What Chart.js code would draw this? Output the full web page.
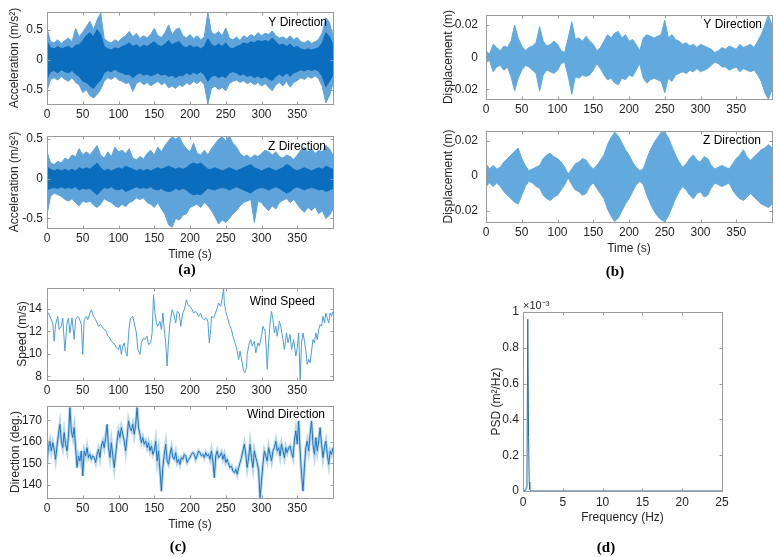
<!DOCTYPE html>
<html>
<head>
<meta charset="utf-8">
<script src="https://cdn.jsdelivr.net/npm/chart.js@4.4.0/dist/chart.umd.min.js"></script>
<style>
  body { margin: 0; background: #fff; width: 777px; height: 557px; position: relative; overflow: hidden; }
  canvas { position: absolute; left: 0; top: 0; }
  .sub { position: absolute; font: bold 15px "Liberation Serif", "Times New Roman", serif; color: #000; transform: translate(-50%, -50%); }
</style>
</head>
<body>
<canvas id="accY" width="777" height="557"></canvas>
<canvas id="accZ" width="777" height="557"></canvas>
<canvas id="dispY" width="777" height="557"></canvas>
<canvas id="dispZ" width="777" height="557"></canvas>
<canvas id="speed" width="777" height="557"></canvas>
<canvas id="dir" width="777" height="557"></canvas>
<canvas id="psd" width="777" height="557"></canvas>
<div class="sub" style="left:187px;top:269px">(a)</div>
<div class="sub" style="left:615px;top:271px">(b)</div>
<div class="sub" style="left:178px;top:546px">(c)</div>
<div class="sub" style="left:606px;top:547px">(d)</div>
<script>
// time axis for the envelope readings (s)
const t5 = [0,5,10,15,20,25,30,35,40,45,50,55,60,65,70,75,80,85,90,95,
  100,105,110,115,120,125,130,135,140,145,150,155,160,165,170,175,180,185,190,195,
  200,205,210,215,220,225,230,235,240,245,250,255,260,265,270,275,280,285,290,295,
  300,305,310,315,320,325,330,335,340,345,350,355,360,365,370,375,380,385,390,395,400]

const timeTicks = [0, 50, 100, 150, 200, 250, 300, 350]

// acceleration Y: outer (light) and inner (dark) envelopes
const accYHi = [0.52,0.30,0.28,0.33,0.27,0.32,0.36,0.30,0.52,0.38,
  0.46,0.55,0.64,0.50,0.66,0.78,0.35,0.30,0.28,0.33,
  0.30,0.36,0.40,0.47,0.38,0.44,0.35,0.40,0.36,0.42,
  0.52,0.40,0.37,0.45,0.58,0.42,0.50,0.53,0.40,0.36,
  0.42,0.35,0.40,0.33,0.38,0.79,0.45,0.42,0.47,0.40,
  0.53,0.36,0.33,0.38,0.32,0.40,0.36,0.42,0.38,0.45,
  0.40,0.44,0.42,0.48,0.40,0.36,0.38,0.34,0.40,0.33,
  0.37,0.30,0.28,0.32,0.27,0.30,0.34,0.45,0.70,0.62,0.40]
const accYLo = [-0.52,-0.33,-0.30,-0.34,-0.28,-0.33,-0.36,-0.30,-0.38,-0.42,
  -0.55,-0.50,-0.60,-0.64,-0.58,-0.50,-0.36,-0.30,-0.33,-0.28,
  -0.34,-0.36,-0.40,-0.38,-0.53,-0.40,-0.36,-0.42,-0.38,-0.44,
  -0.40,-0.36,-0.42,-0.38,-0.47,-0.44,-0.48,-0.42,-0.45,-0.38,
  -0.42,-0.36,-0.40,-0.35,-0.42,-0.74,-0.48,-0.44,-0.50,-0.46,
  -0.52,-0.40,-0.36,-0.34,-0.38,-0.35,-0.40,-0.37,-0.42,-0.38,
  -0.44,-0.40,-0.46,-0.52,-0.42,-0.38,-0.44,-0.36,-0.46,-0.38,
  -0.35,-0.30,-0.33,-0.28,-0.31,-0.27,-0.32,-0.45,-0.72,-0.60,-0.40]
const accYCoreHi = [0.30,0.20,0.18,0.22,0.18,0.20,0.22,0.18,0.24,0.25,
  0.32,0.40,0.45,0.38,0.50,0.42,0.22,0.18,0.16,0.20,
  0.18,0.22,0.24,0.28,0.22,0.25,0.20,0.24,0.22,0.26,
  0.30,0.24,0.22,0.26,0.32,0.25,0.28,0.30,0.22,0.20,
  0.24,0.20,0.22,0.18,0.22,0.35,0.25,0.22,0.26,0.22,
  0.28,0.20,0.18,0.22,0.24,0.28,0.26,0.30,0.28,0.32,
  0.30,0.32,0.30,0.36,0.30,0.24,0.26,0.22,0.26,0.20,
  0.22,0.18,0.16,0.18,0.16,0.18,0.20,0.28,0.45,0.38,0.25]
const accYCoreLo = [-0.32,-0.20,-0.18,-0.22,-0.17,-0.20,-0.22,-0.18,-0.24,-0.28,
  -0.36,-0.38,-0.44,-0.48,-0.40,-0.34,-0.22,-0.18,-0.20,-0.16,
  -0.20,-0.22,-0.25,-0.24,-0.30,-0.25,-0.22,-0.26,-0.24,-0.27,
  -0.25,-0.22,-0.26,-0.24,-0.28,-0.26,-0.30,-0.26,-0.27,-0.22,
  -0.25,-0.21,-0.24,-0.20,-0.25,-0.36,-0.28,-0.26,-0.30,-0.27,
  -0.30,-0.22,-0.20,-0.22,-0.26,-0.24,-0.28,-0.26,-0.30,-0.27,
  -0.31,-0.28,-0.32,-0.35,-0.28,-0.24,-0.28,-0.22,-0.28,-0.22,
  -0.20,-0.17,-0.19,-0.16,-0.18,-0.16,-0.19,-0.28,-0.45,-0.36,-0.25]

// acceleration Z
const accZHi = [0.34,0.20,0.18,0.22,0.20,0.26,0.24,0.30,0.28,0.38,
  0.30,0.34,0.30,0.36,0.42,0.30,0.26,0.34,0.28,0.40,
  0.34,0.36,0.32,0.38,0.26,0.24,0.28,0.25,0.32,0.36,
  0.30,0.40,0.34,0.42,0.48,0.53,0.50,0.53,0.44,0.38,
  0.34,0.45,0.32,0.30,0.36,0.30,0.38,0.44,0.50,0.53,
  0.48,0.54,0.45,0.40,0.32,0.28,0.30,0.26,0.30,0.28,
  0.32,0.36,0.34,0.30,0.34,0.28,0.26,0.30,0.28,0.24,
  0.30,0.36,0.40,0.34,0.38,0.32,0.36,0.34,0.42,0.38,0.30]
const accZLo = [-0.45,-0.22,-0.18,-0.20,-0.22,-0.26,-0.28,-0.25,-0.30,-0.34,
  -0.28,-0.30,-0.28,-0.33,-0.36,-0.32,-0.25,-0.28,-0.30,-0.34,
  -0.36,-0.32,-0.35,-0.30,-0.28,-0.24,-0.26,-0.24,-0.30,-0.32,
  -0.36,-0.30,-0.38,-0.45,-0.58,-0.61,-0.50,-0.52,-0.46,-0.44,
  -0.36,-0.34,-0.32,-0.36,-0.30,-0.34,-0.40,-0.48,-0.57,-0.52,
  -0.55,-0.50,-0.44,-0.40,-0.34,-0.30,-0.28,-0.26,-0.55,-0.28,
  -0.30,-0.36,-0.40,-0.34,-0.38,-0.30,-0.27,-0.25,-0.30,-0.26,
  -0.32,-0.38,-0.42,-0.36,-0.40,-0.35,-0.44,-0.40,-0.50,-0.46,-0.38]
const accZCoreHi = [0.15,0.12,0.10,0.12,0.10,0.12,0.10,0.12,0.10,0.14,
  0.12,0.14,0.12,0.16,0.20,0.14,0.10,0.12,0.10,0.12,
  0.14,0.12,0.16,0.14,0.12,0.10,0.12,0.10,0.12,0.10,
  0.12,0.14,0.12,0.14,0.16,0.14,0.12,0.14,0.12,0.14,
  0.18,0.20,0.18,0.20,0.16,0.12,0.12,0.14,0.12,0.10,
  0.12,0.14,0.12,0.10,0.12,0.14,0.16,0.18,0.14,0.12,
  0.10,0.12,0.14,0.12,0.10,0.12,0.14,0.18,0.16,0.12,
  0.10,0.12,0.14,0.12,0.10,0.12,0.14,0.12,0.16,0.14,0.12]
const accZCoreLo = [-0.14,-0.12,-0.11,-0.12,-0.10,-0.12,-0.11,-0.12,-0.10,-0.14,
  -0.12,-0.13,-0.12,-0.16,-0.20,-0.15,-0.11,-0.12,-0.10,-0.13,
  -0.14,-0.12,-0.16,-0.14,-0.12,-0.10,-0.12,-0.11,-0.12,-0.10,
  -0.13,-0.14,-0.12,-0.15,-0.16,-0.15,-0.12,-0.14,-0.12,-0.14,
  -0.18,-0.20,-0.19,-0.20,-0.16,-0.12,-0.13,-0.14,-0.12,-0.11,
  -0.12,-0.14,-0.12,-0.10,-0.12,-0.14,-0.16,-0.18,-0.14,-0.12,
  -0.11,-0.12,-0.14,-0.12,-0.10,-0.12,-0.15,-0.18,-0.16,-0.12,
  -0.10,-0.12,-0.14,-0.12,-0.11,-0.12,-0.14,-0.13,-0.16,-0.14,-0.12]

// displacement envelopes (m)
const dispYHi = [0.004,0.002,0.008,0.006,0.004,0.007,0.006,0.010,0.020,0.012,
  0.007,0.004,0.006,0.007,0.009,0.019,0.010,0.007,0.008,0.010,
  0.008,0.004,0.003,0.012,0.022,0.011,0.012,0.010,0.013,0.010,
  0.008,0.004,0.006,0.010,0.014,0.012,0.015,0.016,0.012,0.014,
  0.010,0.011,0.008,0.004,0.012,0.014,0.013,0.012,0.013,0.014,
  0.023,0.012,0.014,0.011,0.010,0.008,0.009,0.007,0.008,0.006,
  0.008,0.007,0.006,0.005,0.003,0.004,0.006,0.005,0.007,0.006,
  0.005,0.008,0.006,0.007,0.008,0.006,0.010,0.014,0.020,0.026,0.020]
const dispYLo = [-0.003,-0.002,-0.009,-0.006,-0.005,-0.008,-0.006,-0.012,-0.021,-0.013,
  -0.008,-0.005,-0.006,-0.008,-0.010,-0.021,-0.011,-0.008,-0.009,-0.010,
  -0.008,-0.004,-0.003,-0.012,-0.023,-0.012,-0.013,-0.011,-0.012,-0.011,
  -0.008,-0.004,-0.007,-0.011,-0.014,-0.013,-0.016,-0.017,-0.013,-0.014,
  -0.011,-0.012,-0.008,-0.004,-0.013,-0.016,-0.014,-0.013,-0.014,-0.015,
  -0.022,-0.013,-0.015,-0.011,-0.010,-0.009,-0.010,-0.008,-0.009,-0.007,
  -0.009,-0.008,-0.007,-0.005,-0.003,-0.004,-0.006,-0.006,-0.008,-0.007,
  -0.006,-0.009,-0.007,-0.008,-0.009,-0.008,-0.011,-0.015,-0.022,-0.026,-0.020]
const dispZHi = [0.007,0.004,0.006,0.004,0.005,0.008,0.010,0.012,0.014,0.016,
  0.010,0.006,0.003,0.004,0.005,0.006,0.010,0.012,0.013,0.011,
  0.010,0.008,0.005,0.001,0.004,0.007,0.008,0.010,0.009,0.006,
  0.004,0.006,0.009,0.012,0.018,0.022,0.025,0.023,0.019,0.015,
  0.012,0.008,0.005,0.003,0.004,0.010,0.015,0.019,0.022,0.025,
  0.025,0.022,0.017,0.012,0.008,0.005,0.007,0.010,0.012,0.009,
  0.008,0.011,0.010,0.006,0.004,0.005,0.006,0.005,0.004,0.007,
  0.010,0.012,0.015,0.011,0.009,0.011,0.013,0.015,0.016,0.018,0.016]
const dispZLo = [-0.006,-0.004,-0.006,-0.004,-0.006,-0.009,-0.011,-0.013,-0.015,-0.016,
  -0.011,-0.006,-0.003,-0.004,-0.006,-0.007,-0.011,-0.013,-0.014,-0.012,
  -0.011,-0.008,-0.005,-0.001,-0.005,-0.008,-0.009,-0.011,-0.010,-0.006,
  -0.004,-0.007,-0.010,-0.013,-0.019,-0.023,-0.026,-0.024,-0.020,-0.016,
  -0.013,-0.009,-0.005,-0.003,-0.005,-0.011,-0.016,-0.020,-0.023,-0.025,
  -0.026,-0.023,-0.018,-0.013,-0.009,-0.006,-0.008,-0.011,-0.013,-0.010,
  -0.009,-0.012,-0.011,-0.007,-0.004,-0.005,-0.006,-0.005,-0.004,-0.008,
  -0.011,-0.013,-0.014,-0.012,-0.010,-0.012,-0.014,-0.016,-0.017,-0.018,-0.016]

// wind speed (m/s)
const speedTime = [0,2,5,8,10,12,15,17,20,22,
  25,28,30,32,35,38,40,43,45,48,
  50,52,55,57,60,62,65,68,70,72,
  75,78,80,83,85,88,90,92,95,97,
  100,102,104,106,108,110,112,115,117,120,
  122,125,127,130,132,135,137,140,142,145,
  147,149,151,153,155,158,160,162,164,166,
  168,170,172,175,177,180,182,185,187,190,
  192,195,197,200,203,205,208,210,212,215,
  217,220,223,225,227,229,230,233,235,238,
  240,243,245,247,248,250,252,255,258,260,
  263,265,268,270,273,275,277,279,280,283,
  285,287,290,292,295,297,300,302,305,307,
  308,310,312,314,316,318,320,322,325,327,
  330,332,335,337,340,342,345,348,350,352,
  354,356,358,360,362,364,366,368,370,372,
  374,376,378,380,382,384,386,388,390,392,
  394,396,398,400]
const speedVal = [13.62,13.62,13.18,12.74,11.12,12.59,13.32,12.15,12.44,13.18,
  10.24,12.74,13.18,11.85,13.18,11.26,13.03,13.32,13.18,12.59,
  9.94,13.03,13.32,13.03,13.62,13.91,13.32,13.03,12.74,12.44,
  12.59,12.29,12.15,12.0,11.56,11.41,11.12,10.97,10.82,10.53,
  10.38,10.82,9.94,10.68,10.97,10.24,9.79,12.44,13.18,13.32,
  12.74,11.85,10.38,9.94,10.97,11.41,11.26,11.56,10.82,10.97,
  11.85,15.24,13.62,12.74,12.44,12.88,12.15,13.62,12.15,10.97,
  8.91,11.26,12.74,13.91,13.62,12.74,13.76,13.62,12.44,13.62,
  13.91,14.79,14.35,14.21,13.91,13.62,13.76,13.62,13.32,13.62,
  13.18,13.03,13.18,12.88,10.97,12.15,13.32,13.18,13.47,14.06,
  14.5,14.21,14.94,15.8,14.5,13.76,13.32,12.59,12.15,11.56,
  10.97,10.53,9.5,10.24,9.21,8.47,8.32,8.76,9.94,10.97,
  11.26,10.68,11.12,10.09,10.97,10.68,11.56,12.44,12.0,10.09,
  8.62,10.97,12.74,13.76,13.03,11.85,12.44,11.56,12.88,12.44,
  11.26,10.38,11.85,10.97,11.71,10.38,11.26,9.79,10.53,11.85,
  7.7,10.97,11.85,11.12,10.24,9.06,9.5,9.21,10.24,11.26,
  10.97,11.85,11.26,12.15,12.59,12.44,13.32,12.74,13.62,13.18,
  12.74,13.62,13.32,13.76]

// wind direction (deg.)
const dirTime = [0,2,4,6,8,10,12,14,16,18,20,22,24,26,28,30,32,34,36,38,
  40,42,44,46,48,50,52,54,56,58,60,62,64,66,68,70,72,74,76,78,
  80,82,84,86,88,90,92,94,96,98,100,102,104,106,108,110,112,114,116,118,
  120,122,124,126,128,130,132,134,136,138,140,142,144,146,148,150,152,154,156,158,
  160,162,164,166,168,170,172,174,176,178,180,182,184,186,188,190,192,194,196,198,
  200,202,204,206,208,210,212,214,216,218,220,222,224,226,228,230,232,234,236,238,
  240,242,244,246,248,250,252,254,256,258,260,262,264,266,268,270,272,274,276,278,
  280,282,284,286,288,290,292,294,296,298,300,302,304,306,308,310,312,314,316,318,
  320,322,324,326,328,330,332,334,336,338,340,342,344,346,348,350,352,354,356,358,
  360,362,364,366,368,370,372,374,376,378,380,382,384,386,388,390,392,394,396,398,400]
const dirVal = [150.4,157.3,160.4,155.8,159.6,156.6,151.9,158.1,163.5,168.1,160.4,157.3,164.3,158.9,155.8,162.0,175.9,165.1,162.0,166.6,
  157.3,148.1,153.5,151.1,155.8,144.2,155.8,153.5,157.3,152.7,154.2,151.9,153.5,152.7,150.4,154.2,156.6,152.7,158.1,160.4,
  157.3,162.0,168.1,157.3,152.7,159.6,153.5,148.1,154.2,160.4,165.1,162.0,166.6,163.5,160.4,155.8,162.0,169.7,166.6,165.1,
  168.1,163.5,168.1,175.9,166.6,163.5,159.6,162.0,158.9,160.4,157.3,159.6,155.8,158.1,154.2,155.8,160.4,151.1,155.8,146.5,
  137.2,148.1,154.2,158.9,151.1,149.6,154.2,157.3,152.7,151.9,155.0,150.4,151.9,149.6,152.7,151.9,154.2,153.5,150.4,151.9,
  152.7,154.2,155.0,154.2,151.9,153.5,155.8,155.0,153.5,154.2,152.7,155.0,153.5,154.2,151.9,155.8,151.1,143.4,153.5,155.8,
  152.7,153.5,155.0,151.9,154.2,150.4,151.9,149.6,148.1,148.8,146.5,145.7,147.3,145.0,148.1,150.4,152.7,155.8,158.9,154.2,
  148.1,152.7,158.9,152.7,148.1,155.8,152.7,150.4,146.5,134.1,141.9,149.6,155.8,153.5,151.1,157.3,154.2,151.1,155.8,157.3,
  160.4,155.8,157.3,153.5,158.9,155.8,152.7,157.3,155.0,157.3,158.1,155.0,152.7,160.4,165.1,158.9,169.7,155.8,145.0,137.2,
  148.1,157.3,160.4,155.8,163.5,169.7,158.9,154.2,162.0,155.8,160.4,166.6,158.9,152.7,157.3,160.4,154.2,149.6,155.8,154.2,157.3]

// PSD of displacement (x 10^-3 m^2/Hz)
const psdFreq = [0, 0.3, 0.45, 0.5, 0.6, 0.7, 0.78, 0.85, 1.0, 25]
const psdVal = [0, 0.003, 0.02, 0.1, 0.96, 0.3, 0.05, 0.01, 0, 0]
const freqTicks = [0, 5, 10, 15, 20, 25]
const psdTicks = [0, 0.2, 0.4, 0.6, 0.8, 1]

const FONT = '"Liberation Sans", Arial, sans-serif'
const INK = '#262626'
const BLUE = '#0b6dbd'
const LIGHT = '#5ea3d9'
const DISP = '#62a9de'

const pts = (xs, ys) => ys.map((v, i) => ({ x: xs[i], y: v }))

// MATLAB style box: grey frame, ticks pointing in on all four sides, corner note
const matlabBox = {
  id: 'matlabBox',
  afterDraw(chart, args, opts) {
    const { ctx, chartArea: a, scales } = chart
    const L = Math.round(a.left) + 0.5, R = Math.round(a.right) + 0.5
    const T = Math.round(a.top) + 0.5, B = Math.round(a.bottom) + 0.5
    ctx.save()
    ctx.strokeStyle = '#9b9b9b'
    ctx.lineWidth = 1
    ctx.strokeRect(L, T, R - L, B - T)
    ctx.beginPath()
    scales.x.ticks.forEach(tk => {
      const px = Math.round(scales.x.getPixelForValue(tk.value)) + 0.5
      ctx.moveTo(px, B); ctx.lineTo(px, B - 3)
      ctx.moveTo(px, T); ctx.lineTo(px, T + 3)
    })
    scales.y.ticks.forEach(tk => {
      const py = Math.round(scales.y.getPixelForValue(tk.value)) + 0.5
      ctx.moveTo(L, py); ctx.lineTo(L + 3, py)
      ctx.moveTo(R, py); ctx.lineTo(R - 3, py)
    })
    ctx.stroke()
    ;(opts.notes || []).forEach(n => {
      ctx.font = (n.size || 12) + 'px ' + FONT
      ctx.fillStyle = n.color || '#000'
      ctx.textBaseline = 'middle'
      ctx.textAlign = n.align || 'right'
      const x = n.align === 'left' ? a.left + n.dx : a.right - n.dx
      ctx.fillText(n.text, x, a.top + n.dy)
    })
    ctx.restore()
  }
}

function panel(id, p) {
  const yW = p.box.l - p.padL
  return new Chart(document.getElementById(id), {
    type: 'line',
    data: { datasets: p.datasets },
    options: {
      responsive: false,
      animation: false,
      events: [],
      parsing: false,
      layout: { padding: { left: p.padL, top: p.box.t, right: 777 - p.box.r, bottom: 557 - p.box.b - p.xH } },
      elements: { point: { radius: 0 }, line: { tension: 0 } },
      plugins: { legend: { display: false }, tooltip: { enabled: false }, matlabBox: { notes: p.notes } },
      scales: {
        x: {
          type: 'linear', min: p.xMin, max: p.xMax,
          afterBuildTicks: s => { s.ticks = p.xTicks.map(v => ({ value: v })) },
          afterFit: s => { s.height = p.xH },
          grid: { display: false, drawTicks: false, tickLength: 0 }, border: { display: false },
          ticks: { padding: p.xPad || 3, color: INK, font: { family: FONT, size: 12 }, maxRotation: 0, autoSkip: false, callback: v => String(v) },
          title: { display: !!p.xTitle, text: p.xTitle || '', padding: 0, color: INK, font: { family: FONT, size: 12 } }
        },
        y: {
          min: p.yMin, max: p.yMax,
          afterBuildTicks: s => { s.ticks = p.yTicks.map(v => ({ value: v })) },
          afterFit: s => { s.width = yW },
          grid: { display: false, drawTicks: false, tickLength: 0 }, border: { display: false },
          ticks: { padding: p.yPad, color: INK, font: { family: FONT, size: 12 }, autoSkip: false, callback: v => String(v) },
          title: { display: true, text: p.yTitle, padding: 0, color: INK, font: { family: FONT, size: 12 } }
        }
      }
    },
    plugins: [matlabBox]
  })
}

function band(hi, lo, color) {
  return [
    { data: pts(t5, hi), fill: '+1', backgroundColor: color, borderColor: color, borderWidth: 1 },
    { data: pts(t5, lo), fill: false, borderColor: color, borderWidth: 1 }
  ]
}

panel('accY', {
  box: { l: 47, t: 12, r: 333, b: 104 }, padL: 7, xH: 20, yPad: 4,
  xMin: 0, xMax: 400, xTicks: timeTicks, yMin: -0.74, yMax: 0.795, yTicks: [-0.5, 0, 0.5],
  yTitle: 'Acceleration (m/s²)',
  datasets: [...band(accYCoreHi, accYCoreLo, BLUE), ...band(accYHi, accYLo, LIGHT)],
  notes: [{ text: 'Y Direction', dx: 6, dy: 11 }]
})

panel('accZ', {
  box: { l: 47, t: 136, r: 333, b: 228 }, padL: 7, xH: 34, yPad: 4,
  xMin: 0, xMax: 400, xTicks: timeTicks, yMin: -0.62, yMax: 0.54, yTicks: [-0.5, 0, 0.5],
  yTitle: 'Acceleration (m/s²)', xTitle: 'Time (s)',
  datasets: [...band(accZCoreHi, accZCoreLo, BLUE), ...band(accZHi, accZLo, LIGHT)],
  notes: [{ text: 'Z Direction', dx: 7, dy: 11 }]
})

panel('dispY', {
  box: { l: 486, t: 8, r: 772, b: 99 }, padL: 441, xH: 20, yPad: 8,
  xMin: 0, xMax: 400, xTicks: timeTicks, yMin: -0.0259, yMax: 0.0261, yTicks: [-0.02, 0, 0.02],
  yTitle: 'Displacement (m)',
  datasets: band(dispYHi, dispYLo, DISP),
  notes: [{ text: 'Y Direction', dx: 10, dy: 9 }]
})

panel('dispZ', {
  box: { l: 486, t: 131, r: 772, b: 222 }, padL: 441, xH: 34, yPad: 8,
  xMin: 0, xMax: 400, xTicks: timeTicks, yMin: -0.0263, yMax: 0.0257, yTicks: [-0.02, 0, 0.02],
  yTitle: 'Displacement (m)', xTitle: 'Time (s)',
  datasets: band(dispZHi, dispZLo, DISP),
  notes: [{ text: 'Z Direction', dx: 11, dy: 10 }]
})

panel('speed', {
  box: { l: 47, t: 288, r: 333, b: 380 }, padL: 15, xH: 20, yPad: 5,
  xMin: 0, xMax: 400, xTicks: timeTicks, yMin: 7.67, yMax: 15.84, yTicks: [8, 10, 12, 14],
  yTitle: 'Speed (m/s)',
  datasets: [{ data: pts(speedTime, speedVal), borderColor: '#4d9fd9', borderWidth: 1, fill: false }],
  notes: [{ text: 'Wind Speed', dx: 18, dy: 14 }]
})

panel('dir', {
  box: { l: 47, t: 406, r: 333, b: 498 }, padL: 8, xH: 34, yPad: 5,
  xMin: 0, xMax: 400, xTicks: timeTicks, yMin: 134.0, yMax: 176.6, yTicks: [140, 150, 160, 170],
  yTitle: 'Direction (deg.)', xTitle: 'Time (s)',
  datasets: [
    { data: pts(dirTime, dirVal), borderColor: '#1f74bd', borderWidth: 1, fill: false },
    { data: pts(dirTime, dirVal), borderColor: 'rgba(94,163,217,0.45)', borderWidth: 3, fill: false }
  ],
  notes: [{ text: 'Wind Direction', dx: 8, dy: 9 }]
})

panel('psd', {
  box: { l: 523, t: 312, r: 722, b: 491 }, padL: 489, xH: 34, yPad: 4, xPad: 4,
  xMin: 0, xMax: 25, xTicks: freqTicks, yMin: 0, yMax: 1, yTicks: psdTicks,
  yTitle: 'PSD (m²/Hz)', xTitle: 'Frequency (Hz)',
  datasets: [{ data: pts(psdFreq, psdVal), borderColor: '#1f6fa8', borderWidth: 1, fill: false }],
  notes: [{ text: '×10⁻³', dx: 0, dy: -6, align: 'left', size: 11, color: INK }]
})
</script>
</body>
</html>
